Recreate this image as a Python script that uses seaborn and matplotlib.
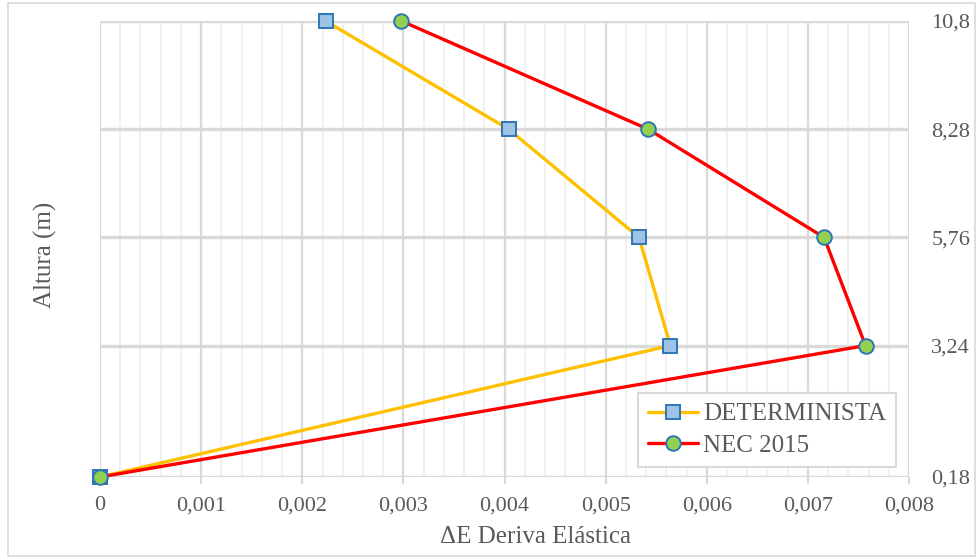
import matplotlib
matplotlib.use("Agg")
import matplotlib.pyplot as plt
import seaborn as sns
import pandas as pd
from matplotlib.ticker import MultipleLocator, FuncFormatter

altura = [0.18, 3.24, 5.76, 8.28, 10.8]
determinista = [0.0, 0.00564, 0.00533, 0.00404, 0.00223]
nec2015 = [0.0, 0.00757, 0.00716, 0.00542, 0.00298]
x_ticks = [0, 0.001, 0.002, 0.003, 0.004, 0.005, 0.006, 0.007, 0.008]
y_ticks = altura

sns.set_theme(style="white")
plt.rcParams['font.family'] = ['Liberation Serif', 'DejaVu Serif']

fig = plt.figure(figsize=(9.77, 5.58), dpi=100)
ax = fig.add_axes([0.1024, 0.1452, 0.828, 0.8172])

txt = '#595959'
df1 = pd.DataFrame({'x': determinista, 'y': altura})
df2 = pd.DataFrame({'x': nec2015, 'y': altura})
sns.lineplot(data=df1, x='x', y='y', sort=False, estimator=None, ax=ax,
             color='#ffc000', lw=2.4, marker='s', markersize=10.5,
             markerfacecolor='#9dc3e6', markeredgecolor='#2e75b6', markeredgewidth=1.4,
             label='DETERMINISTA', clip_on=False, zorder=3)
sns.lineplot(data=df2, x='x', y='y', sort=False, estimator=None, ax=ax,
             color='#ff0000', lw=2.4, marker='o', markersize=10.5,
             markerfacecolor='#92d050', markeredgecolor='#2e75b6', markeredgewidth=1.4,
             label='NEC 2015', clip_on=False, zorder=4)

ax.set_xlim(0, 0.008)
ax.set_ylim(0.18, 10.8)
ax.set_xticks(x_ticks)
ax.xaxis.set_minor_locator(MultipleLocator(0.0002))
ax.xaxis.set_major_formatter(FuncFormatter(lambda v, p: '0' if abs(v) < 1e-12 else f'{v:.3f}'.replace('.', ',')))
ax.set_yticks(y_ticks)
ax.yaxis.set_major_formatter(FuncFormatter(lambda v, p: f'{v:g}'.replace('.', ',')))
ax.yaxis.tick_right()
ax.yaxis.set_label_position('left')

for s in ax.spines.values():
    s.set_visible(False)

ax.grid(False)
for xv in [i * 0.0002 for i in range(41)]:
    if abs(round(xv / 0.001) * 0.001 - xv) < 1e-9:
        ax.axvline(xv, color='#d9d9d9', lw=1.6, zorder=1)
    else:
        ax.axvline(xv, color='#efefef', lw=1.2, zorder=0.5)
for yv in y_ticks:
    ax.axhline(yv, color='#d9d9d9', lw=2.4, zorder=1)

ax.tick_params(axis='x', which='major', length=5, width=1.5, color='#d9d9d9', labelsize=16, labelcolor=txt, pad=9, bottom=True)
ax.tick_params(axis='x', which='minor', length=0)
ax.tick_params(axis='y', length=0, labelsize=16, labelcolor=txt, pad=16)

ax.set_xlabel('ΔE Deriva Elástica', fontsize=18, color=txt)
ax.xaxis.set_label_coords(0.5377, -0.108)
ax.set_ylabel('Altura (m)', fontsize=18, color=txt)
ax.yaxis.set_label_coords(-0.053, 0.487)

leg = ax.legend(loc='lower right', bbox_to_anchor=(0.99, 0.012), fontsize=18, frameon=True,
                fancybox=False, edgecolor='#d9d9d9', facecolor='white', framealpha=1,
                handlelength=2.0, borderpad=0.4, labelspacing=0.35, handletextpad=0.2,
                borderaxespad=0.2)
leg.get_frame().set_linewidth(1.5)
for t in leg.get_texts():
    t.set_color(txt)
leg.set_zorder(10)

border = plt.Rectangle((0.008, 0.004), 0.99, 0.99, transform=fig.transFigure,
                       fill=False, edgecolor='#d9d9d9', lw=1.2)
fig.patches.append(border)

fig.savefig('out.png', dpi=100)
